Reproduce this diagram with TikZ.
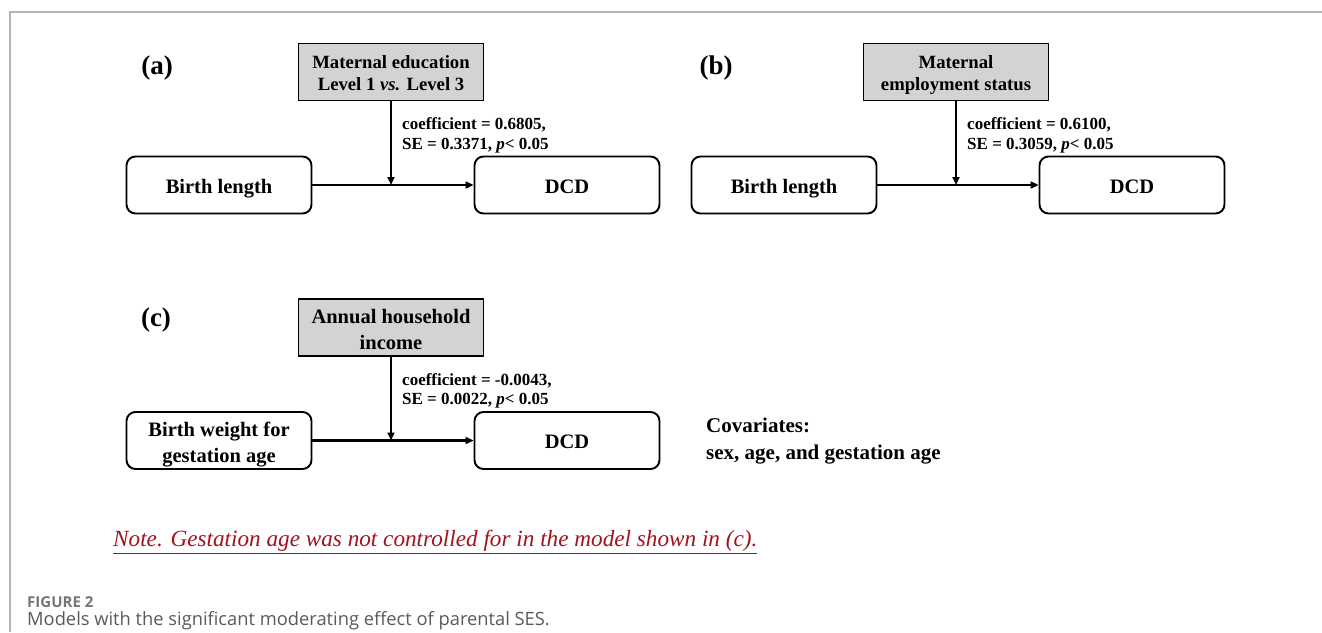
\documentclass[tikz,border=0pt]{standalone}
\usepackage{fontspec}
\setmainfont{Liberation Serif}
\newfontfamily\capfont{Open Sans}
\usetikzlibrary{arrows.meta}
\definecolor{notered}{HTML}{A3131E}
\definecolor{modgray}{HTML}{D3D3D3}
\definecolor{capgray}{HTML}{5A5A5A}
\definecolor{figgray}{HTML}{757575}
\definecolor{framegray}{HTML}{B4B4B4}
\begin{document}
\begin{tikzpicture}[x=1pt,y=-1pt,
 box/.style={draw, line width=1.9pt, rounded corners=9pt, minimum width=185pt, minimum height=57pt, inner sep=0pt, align=center, text depth=0pt, text height=16pt, font=\fontsize{20.5}{26}\selectfont\bfseries},
 modbox/.style={draw, line width=1.9pt, fill=modgray, minimum width=185pt, minimum height=57pt, inner sep=0pt, align=center, text depth=0pt, text height=36pt, font=\fontsize{18.7}{22}\selectfont\bfseries},
 arr/.style={line width=2.2pt, -{Triangle[length=8pt,width=7pt]}},
 coef/.style={anchor=base west, inner sep=0pt, font=\fontsize{17}{20}\selectfont\bfseries},
 panel/.style={inner sep=0pt, font=\fontsize{27}{30}\selectfont\bfseries},
 cov/.style={anchor=base west, inner sep=0pt, font=\fontsize{21}{26}\selectfont\bfseries}]
\useasboundingbox (0,0) rectangle (1322,632);
\fill[white] (0,0) rectangle (1322,632);
\draw[framegray, line width=1.5pt] (10,632) -- (10,12) -- (1322,12);

% panel (a)
\node[panel] (la) at (157,68) {(a)};
\node[modbox] (moda) at (391,72) {Maternal education\\Level 1 \textit{vs.} Level 3};
\node[box] (birtha) at (219,185) {Birth length};
\node[box] (dcda) at (567,185) {DCD};
\coordinate (ja) at (moda.south |- birtha.east);
\draw[arr] (birtha.east) -- (dcda.west);
\draw[arr] (moda.south) -- (ja);
\node[coef] (ca1) at (402,129.5) {coefficient = 0.6805,};
\node[coef] (ca2) at (402,149) {SE = 0.3371, \textit{p}< 0.05};

% panel (b)
\node[panel] (lb) at (716,68) {(b)};
\node[modbox] (modb) at (956,72) {Maternal\\employment status};
\node[box] (birthb) at (784,185) {Birth length};
\node[box] (dcdb) at (1132,185) {DCD};
\coordinate (jb) at (modb.south |- birthb.east);
\draw[arr] (birthb.east) -- (dcdb.west);
\draw[arr] (modb.south) -- (jb);
\node[coef] (cb1) at (967,129.5) {coefficient = 0.6100,};
\node[coef] (cb2) at (967,149) {SE = 0.3059, \textit{p}< 0.05};

% panel (c)
\node[panel] (lc) at (156,320) {(c)};
\node[modbox, text height=43pt, font=\fontsize{20.5}{26}\selectfont\bfseries] (modc) at (391,327.5) {Annual household\\income};
\node[box, text height=43pt] (birthc) at (219,440.5) {Birth weight for\\gestation age};
\node[box, text height=15pt] (dcdc) at (567,440.5) {DCD};
\coordinate (jc) at (modc.south |- birthc.east);
\draw[arr] (birthc.east) -- (dcdc.west);
\draw[arr] (modc.south) -- (jc);
\node[coef] (cc1) at (402,385) {coefficient = -0.0043,};
\node[coef] (cc2) at (402,404.5) {SE = 0.0022, \textit{p}< 0.05};

\node[cov] (cov1) at (706,432.5) {Covariates:};
\node[cov] (cov2) at (706,459) {sex, age, and gestation age};

\node[anchor=base west, inner sep=0pt, text=notered, font=\fontsize{23.2}{26}\selectfont\itshape] (note) at (113,546.5) {\underline{Note. Gestation age was not controlled for in the model shown in (c).}};

\node[anchor=base west, inner sep=0pt, text=figgray, font=\capfont\fontsize{15}{18}\selectfont\bfseries] (fig) at (27,607) {FIGURE 2};
\node[anchor=base west, inner sep=0pt, text=capgray, font=\capfont\fontsize{18.3}{20}\selectfont] (cap) at (27,625.5) {Models with the significant moderating effect of parental SES.};
\end{tikzpicture}
\end{document}
